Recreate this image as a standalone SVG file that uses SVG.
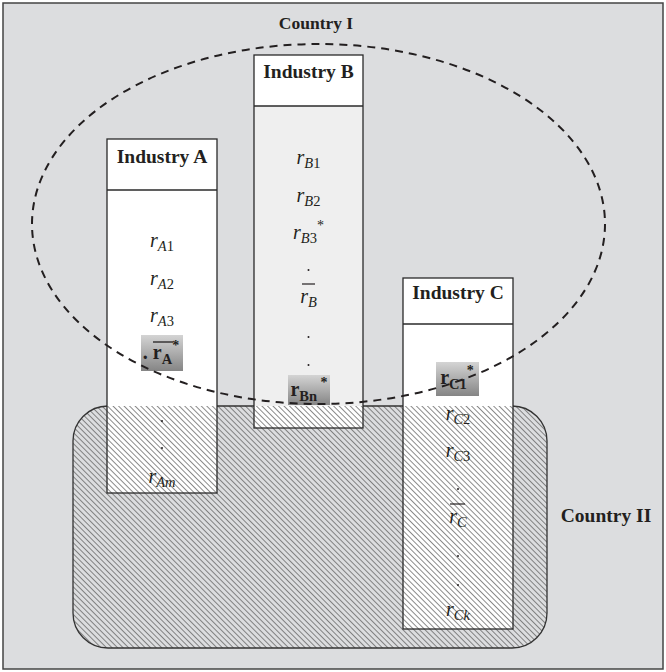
<svg xmlns="http://www.w3.org/2000/svg" width="666" height="672" viewBox="0 0 666 672">
<defs>
<pattern id="hatch" patternUnits="userSpaceOnUse" width="3.9" height="3.9" patternTransform="rotate(45)">
<rect x="0" y="0" width="3.9" height="0.7" fill="#5a5a5a"/>
</pattern>
<linearGradient id="hl" x1="0" y1="0" x2="0" y2="1">
<stop offset="0" stop-color="#d4d4d4"/>
<stop offset="1" stop-color="#858585"/>
</linearGradient>
</defs>
<style>
text{font-family:"Liberation Serif","Times New Roman",serif;fill:#231f20}
.title{font-size:19.5px;font-weight:bold;text-anchor:middle}
.lab{font-size:20px;text-anchor:middle}
.it{font-style:italic}
.sub{font-size:14.5px}
.bold{font-weight:bold}
.box{stroke:#2a2a2a;stroke-width:1.3}
.dot{fill:#231f20}
</style>
<rect x="3" y="3" width="660" height="666" fill="#dcdddf" stroke="#444" stroke-width="1.5"/>
<g id="country2">
<rect x="73" y="406" width="474" height="242" rx="35" ry="35" fill="#dcdddf"/>
<rect x="73" y="406" width="474" height="242" rx="35" ry="35" fill="url(#hatch)" stroke="#333" stroke-width="1.3"/>
</g>
<g id="industryA">
<rect x="107" y="139" width="110" height="267" fill="#fff"/>
<rect x="107" y="406" width="110" height="87" fill="#fff"/>
<rect x="107" y="406" width="110" height="87" fill="url(#hatch)"/>
<rect class="box" x="107" y="139" width="110" height="354" fill="none"/>
<line class="box" x1="107" y1="190" x2="217" y2="190"/>
<text class="title" x="162" y="163">Industry A</text>
<text class="lab" x="162" y="247"><tspan class="it">r</tspan><tspan class="sub" dy="4"><tspan class="it">A</tspan>1</tspan></text>
<text class="lab" x="162" y="285"><tspan class="it">r</tspan><tspan class="sub" dy="4"><tspan class="it">A</tspan>2</tspan></text>
<text class="lab" x="162" y="322"><tspan class="it">r</tspan><tspan class="sub" dy="4"><tspan class="it">A</tspan>3</tspan></text>
<rect x="141" y="335" width="42" height="36" fill="url(#hl)"/>
<text class="lab bold" x="161" y="359">. r<tspan class="sub" dy="5">A</tspan><tspan font-size="14" dy="-14">*</tspan></text>
<line x1="153" y1="342" x2="173" y2="342" stroke="#231f20" stroke-width="1.3"/>
<circle class="dot" cx="162" cy="421" r="1"/>
<circle class="dot" cx="162" cy="448" r="1"/>
<text class="lab" x="162" y="483"><tspan class="it">r</tspan><tspan class="sub it" dy="4">Am</tspan></text>
</g>
<g id="industryB">
<rect x="254" y="55" width="109" height="51" fill="#fff"/>
<rect x="254" y="106" width="109" height="300" fill="#efefef"/>
<rect x="254" y="406" width="109" height="22" fill="#fff"/>
<rect x="254" y="406" width="109" height="22" fill="url(#hatch)"/>
<rect class="box" x="254" y="55" width="109" height="373" fill="none"/>
<line class="box" x1="254" y1="106" x2="363" y2="106"/>
<text class="title" x="308.5" y="78">Industry B</text>
<text class="lab" x="308.5" y="164"><tspan class="it">r</tspan><tspan class="sub" dy="4"><tspan class="it">B</tspan>1</tspan></text>
<text class="lab" x="308.5" y="202"><tspan class="it">r</tspan><tspan class="sub" dy="4"><tspan class="it">B</tspan>2</tspan></text>
<text class="lab" x="308.5" y="239"><tspan class="it">r</tspan><tspan class="sub" dy="4"><tspan class="it">B</tspan>3</tspan><tspan font-size="14" dy="-13">*</tspan></text>
<circle class="dot" cx="308.5" cy="270" r="1"/>
<line x1="302" y1="284" x2="315" y2="284" stroke="#231f20" stroke-width="1.2"/>
<text class="lab" x="308.5" y="303"><tspan class="it">r</tspan><tspan class="sub it" dy="4">B</tspan></text>
<circle class="dot" cx="308.5" cy="337" r="1"/>
<circle class="dot" cx="308.5" cy="365" r="1"/>
<rect x="288" y="375" width="42" height="30" fill="url(#hl)"/>
<text class="lab bold" x="309" y="396">r<tspan class="sub" dy="5">Bn</tspan><tspan font-size="14" dy="-14"> *</tspan></text>
</g>
<g id="industryC">
<rect x="403" y="278" width="110" height="128" fill="#fff"/>
<rect x="403" y="406" width="110" height="223" fill="#fff"/>
<rect x="403" y="406" width="110" height="223" fill="url(#hatch)"/>
<rect class="box" x="403" y="278" width="110" height="351" fill="none"/>
<line class="box" x1="403" y1="324" x2="513" y2="324"/>
<text class="title" x="458" y="299">Industry C</text>
<rect x="436" y="362" width="43" height="34" fill="url(#hl)"/>
<text class="lab bold" x="457" y="384">r<tspan class="sub" dy="5">C1</tspan><tspan font-size="14" dy="-14">*</tspan></text>
<text class="lab" x="458" y="420"><tspan class="it">r</tspan><tspan class="sub" dy="4"><tspan class="it">C</tspan>2</tspan></text>
<text class="lab" x="458" y="457"><tspan class="it">r</tspan><tspan class="sub" dy="4"><tspan class="it">C</tspan>3</tspan></text>
<circle class="dot" cx="458" cy="489" r="1"/>
<line x1="450" y1="504" x2="465" y2="504" stroke="#231f20" stroke-width="1.2"/>
<text class="lab" x="458" y="523"><tspan class="it">r</tspan><tspan class="sub it" dy="4">C</tspan></text>
<circle class="dot" cx="458" cy="556" r="1"/>
<circle class="dot" cx="458" cy="585" r="1"/>
<text class="lab" x="458" y="616"><tspan class="it">r</tspan><tspan class="sub it" dy="4">Ck</tspan></text>
</g>
<g id="country1">
<ellipse cx="318.5" cy="224" rx="286.5" ry="180" fill="none" stroke="#231f20" stroke-width="2" stroke-dasharray="8 6"/>
<text class="title" x="316" y="29" style="font-size:17.5px">Country I</text>
</g>
<text class="title" x="606" y="522">Country II</text>
</svg>
